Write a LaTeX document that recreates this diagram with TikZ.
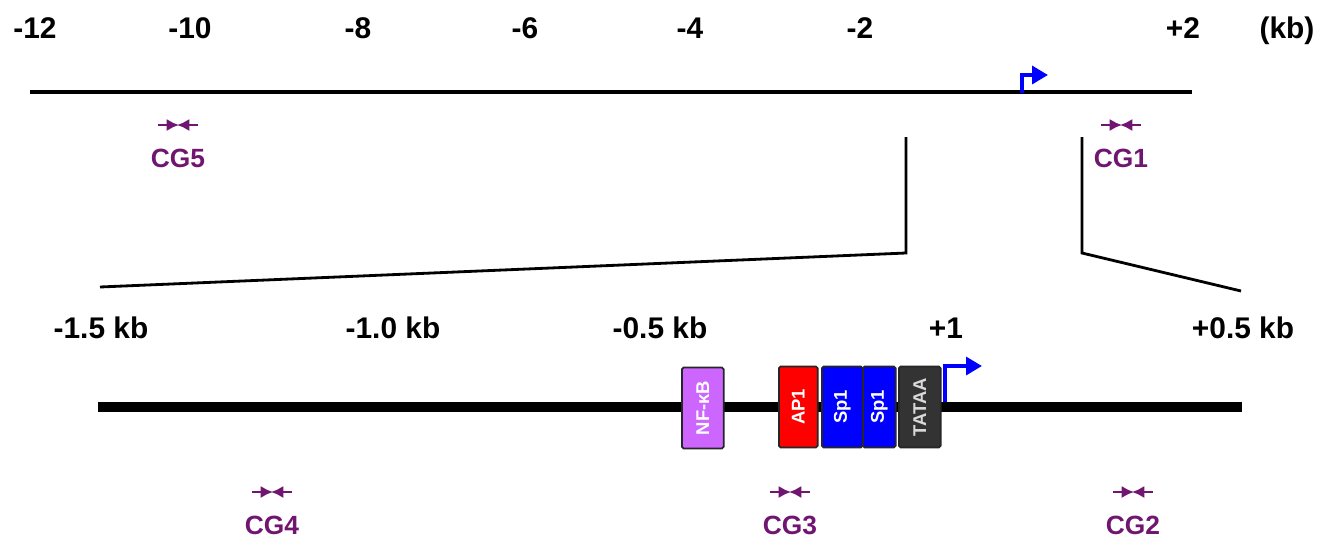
\documentclass[tikz,border=0pt]{standalone}
\usepackage{fontspec}
\setmainfont{Liberation Sans}
\usepackage{xcolor}
\usetikzlibrary{arrows.meta,positioning,calc}
\definecolor{cgpurple}{RGB}{112,22,112}
\definecolor{nfkbpurple}{RGB}{204,102,255}
\definecolor{tataagray}{RGB}{51,51,51}
\tikzset{
    scalelabel/.style={font=\bfseries\fontsize{17}{19}\selectfont, inner sep=0pt, anchor=base},
    cglabel/.style={font=\bfseries\fontsize{15}{17}\selectfont, text=cgpurple, inner sep=0pt, anchor=base},
    dna/.style={draw, line width=2.8pt},
    promoter/.style={draw, line width=5.6pt},
    zoomline/.style={draw, line width=1.6pt},
    primer/.style={draw=cgpurple, line width=1.6pt, -{Latex[length=7pt,width=7pt]}},
    tss/.style={draw=blue, line width=2.8pt, -{Triangle[length=9pt,width=10pt]}},
    site/.style={rectangle, draw=black!85, line width=1pt, rounded corners=1pt, minimum height=46pt, inner sep=0pt, anchor=west, text=white, font=\bfseries\fontsize{10.5}{12}\selectfont}
}

\begin{document}
\begin{tikzpicture}[x=0.02cm, y=-0.02cm]
    \useasboundingbox (0,0) rectangle (1333,545);

    % Upper map
    \foreach \lab/\x in {-12/35, -10/190, -8/358, -6/525, -4/690, -2/860, +2/1183}
        \node [scalelabel] (top\x) at (\x,38) {\lab};
    \node [scalelabel] (kb) at (1287,38) {(kb)};
    \coordinate (topstart) at (30,92);
    \coordinate (topend) at (1192,92);
    \path [dna] (topstart) -- (topend);
    \coordinate (toptss) at (1022,93);
    \path [tss] (toptss) |- ++(26,-18);

    % Zoom lines
    \coordinate (zl1) at (906,137);
    \coordinate (zl2) at (906,253);
    \coordinate (zl3) at (100,287);
    \coordinate (zr1) at (1082,137);
    \coordinate (zr2) at (1082,253);
    \coordinate (zr3) at (1241,291);
    \path [zoomline] (zl1) -- (zl2) -- (zl3);
    \path [zoomline] (zr1) -- (zr2) -- (zr3);

    % Lower map
    \foreach \lab/\x in {-1.5 kb/101, -1.0 kb/393, -0.5 kb/660, +1/946, +0.5 kb/1243}
        \node [scalelabel] (bot\x) at (\x,338) {\lab};
    \coordinate (botstart) at (98,407);
    \coordinate (botend) at (1242,407);
    \path [promoter] (botstart) -- (botend);

    % Binding sites
    \node [site, fill=nfkbpurple, minimum width=23.8pt] (nfkb) at (681,408) {\rotatebox{90}{NF-κB}};
    \node [site, fill=red, minimum width=22.1pt] (ap1) at (778,407) {\rotatebox{90}{AP1}};
    \node [site, fill=blue, minimum width=23.2pt] (sp1a) at (821,407) {\rotatebox{90}{Sp1}};
    \node [site, fill=blue, minimum width=18.7pt] (sp1b) at (862,407) {\rotatebox{90}{Sp1}};
    \node [site, fill=tataagray, minimum width=23.8pt, text=white!85!black] (tataa) at (898,407) {\rotatebox{90}{TATAA}};
    \coordinate (bottss) at (945,402);
    \path [tss] (bottss) |- ++(37,-36);

    % CpG primer pairs
    \foreach \name/\x/\y in {CG5/178/125, CG1/1121/125, CG4/272/492, CG3/790/492, CG2/1133/492} {
        \coordinate (p\name) at (\x,\y);
        \path [primer] ($(p\name)+(-20,0)$) -- ($(p\name)+(1,0)$);
        \path [primer] ($(p\name)+(20,0)$) -- ($(p\name)+(-1,0)$);
        \node [cglabel] (lab\name) at ($(p\name)+(0,42)$) {\name};
    }
\end{tikzpicture}
\end{document}
